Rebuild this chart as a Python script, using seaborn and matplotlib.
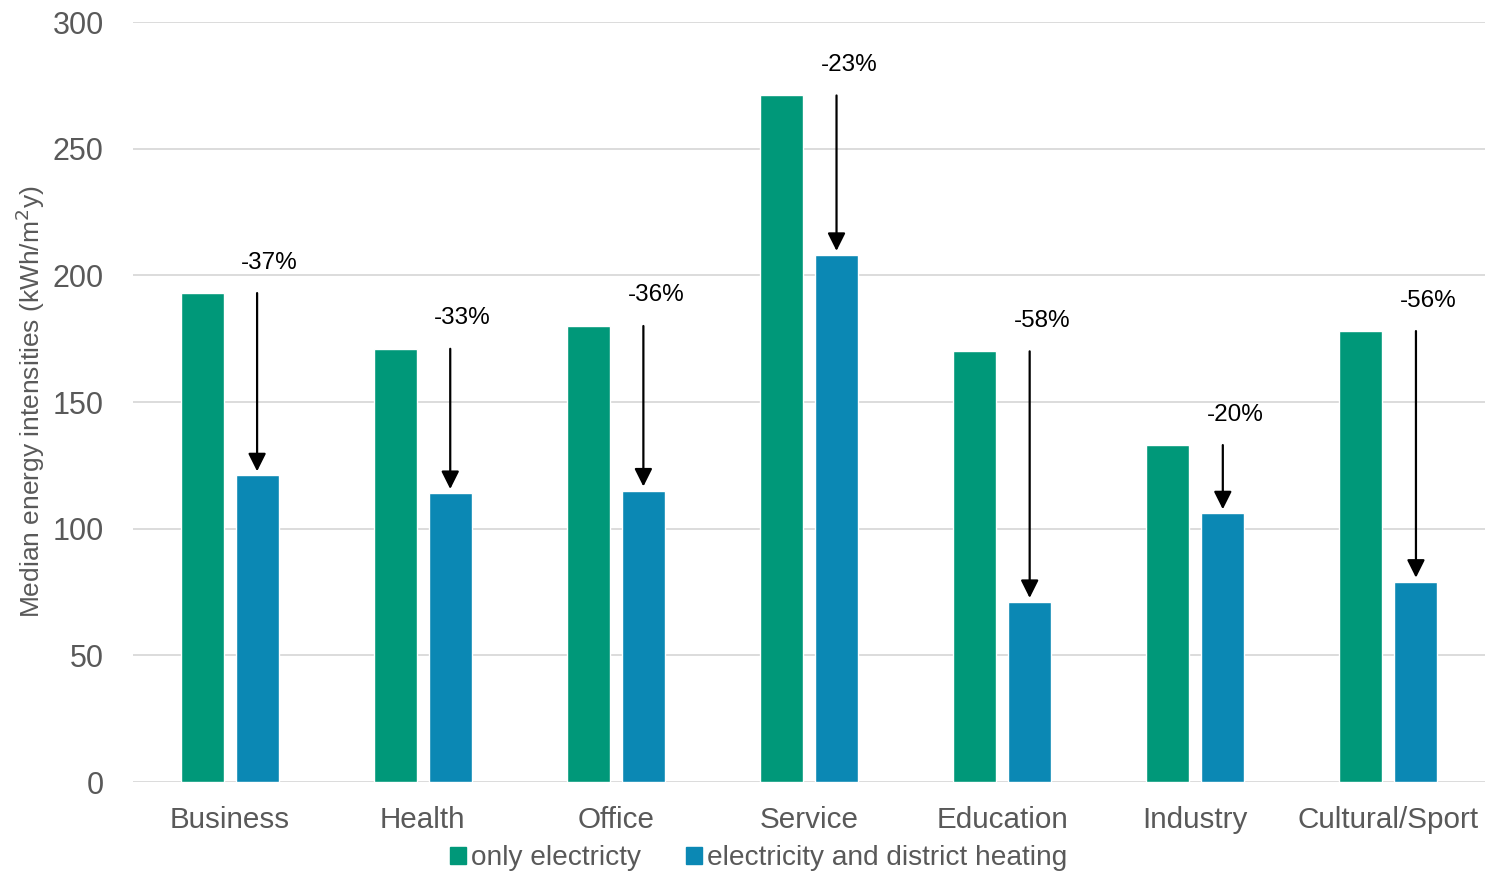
import matplotlib
matplotlib.use("Agg")
import matplotlib.pyplot as plt
import seaborn as sns
import pandas as pd

# Median energy intensity per building category (kWh/m²y)
categories = ["Business", "Health", "Office", "Service", "Education", "Industry", "Cultural/Sport"]
only_electricity = [193, 171, 180, 271, 170, 133, 178]
elec_district_heating = [121, 114, 115, 208, 71, 106, 79]
reductions = ["-37%", "-33%", "-36%", "-23%", "-58%", "-20%", "-56%"]
series_names = ["only electricty", "electricity and district heating"]

df = pd.DataFrame({
    "category": categories * 2,
    "value": only_electricity + elec_district_heating,
    "series": [series_names[0]] * len(categories) + [series_names[1]] * len(categories),
})

sns.set_theme(style="white")
plt.rcParams["font.family"] = ["Liberation Sans", "DejaVu Sans"]

fig = plt.figure(figsize=(14.88, 8.72), dpi=100)
ax = fig.add_axes([133 / 1488, 1 - 782 / 872, (1485 - 133) / 1488, (782 - 22) / 872])

palette = {series_names[0]: "#009879", series_names[1]: "#0B88B4"}
sns.barplot(data=df, x="category", y="value", hue="series", order=categories,
            hue_order=series_names, palette=palette, width=0.57, gap=0.218,
            saturation=1, ax=ax, legend=False, errorbar=None, zorder=3)

ax.set_ylim(0, 300)
ax.set_xlim(-0.5, len(categories) - 0.5)
ax.set_yticks(range(0, 301, 50))
ax.yaxis.grid(True, color="#D9D9D9", linewidth=1.3, zorder=0)
ax.set_axisbelow(True)
for s in ax.spines.values():
    s.set_visible(False)
ax.tick_params(axis="both", length=0, labelcolor="#595959")
ax.tick_params(axis="y", pad=21, labelsize=22)
ax.tick_params(axis="x", pad=17, labelsize=21.3)
ax.set_xlabel("")
ax.set_ylabel("Median energy intensities (kWh/m$^2$y)", fontsize=19,
              color="#595959", labelpad=4)

# Arrows from the electricity-only level down to the district-heating level
offset = 0.1425
for i, (hi, lo, txt) in enumerate(zip(only_electricity, elec_district_heating, reductions)):
    x = i + offset
    ax.annotate("", xy=(x, lo), xytext=(x, hi),
                arrowprops=dict(arrowstyle="-|>", color="black", lw=1.6,
                                mutation_scale=27, shrinkA=0, shrinkB=3),
                zorder=5)
    ax.annotate(txt, xy=(x, hi), xytext=(9, 22), textcoords="offset points",
                ha="center", va="center", fontsize=17.5, color="black")

handles = [plt.Rectangle((0, 0), 1, 1, color=palette[n]) for n in series_names]
fig.legend(handles, series_names, loc="center", bbox_to_anchor=(759 / 1488, 1 - 858 / 872),
           ncol=2, frameon=False, fontsize=20.2, handlelength=0.55, handleheight=0.55,
           handletextpad=0.2, columnspacing=1.6, labelcolor="#595959")

fig.savefig("out.png", dpi=100)
